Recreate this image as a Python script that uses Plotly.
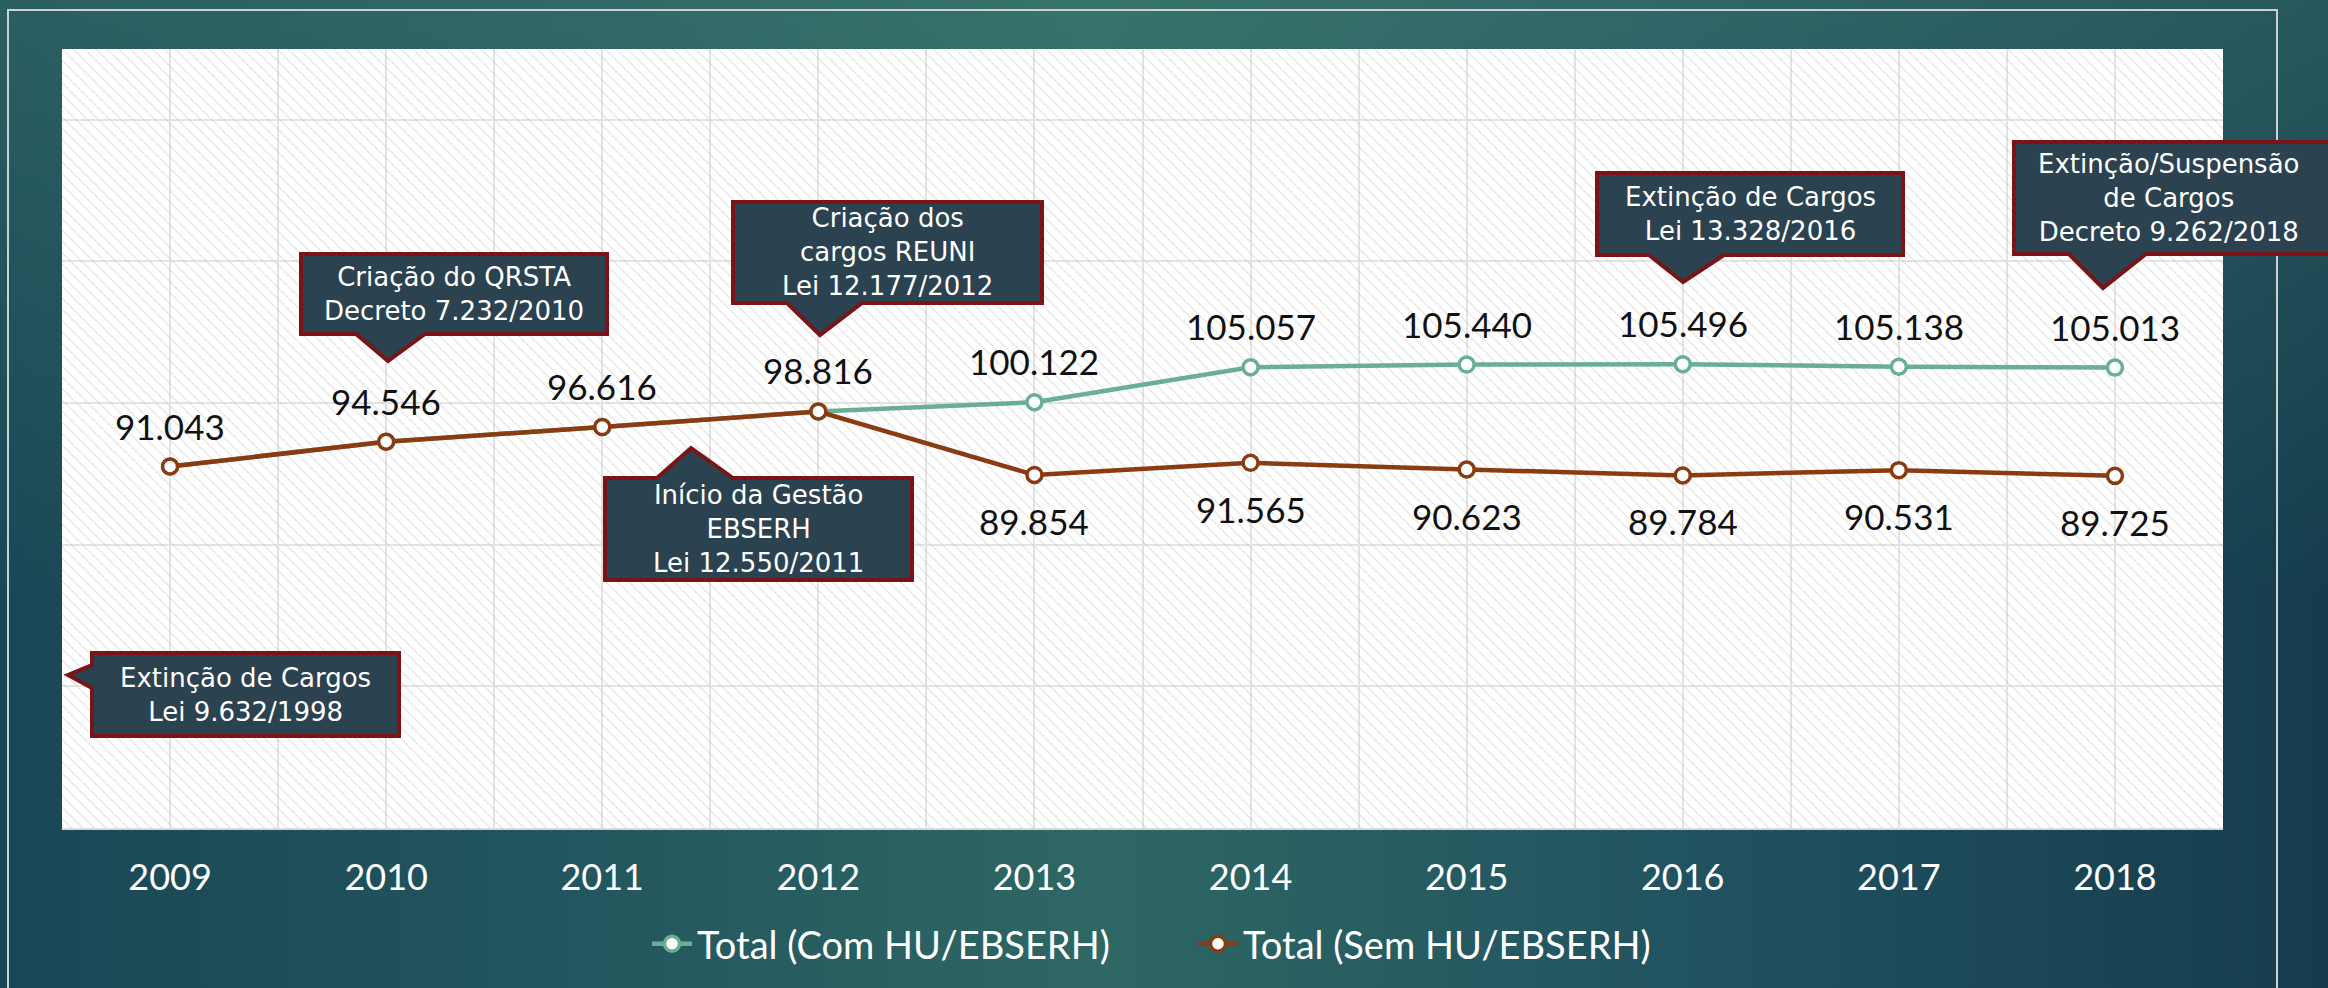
import base64
import plotly.graph_objects as go

# ---------------- data ----------------
years = [2009, 2010, 2011, 2012, 2013, 2014, 2015, 2016, 2017, 2018]
total_com = [91043, 94546, 96616, 98816, 100122, 105057, 105440, 105496, 105138, 105013]
total_sem = [91043, 94546, 96616, 98816, 89854, 91565, 90623, 89784, 90531, 89725]
name_com = "Total (Com HU/EBSERH)"
name_sem = "Total (Sem HU/EBSERH)"

callout_texts = [
    "Criação do QRSTA<br>Decreto 7.232/2010",
    "Criação dos<br>cargos REUNI<br>Lei 12.177/2012",
    "Início da Gestão<br>EBSERH<br>Lei 12.550/2011",
    "Extinção de Cargos<br>Lei 9.632/1998",
    "Extinção de Cargos<br>Lei 13.328/2016",
    "Extinção/Suspensão<br>de Cargos<br>Decreto 9.262/2018",
]

# ---------------- layout constants ----------------
W, H = 2328, 988
PL, PR, PT, PB = 62, 2223, 49, 828
Y_MIN, Y_MAX = 40000, 150000

GREEN = "#6aaf93"
BROWN = "#8a3b12"
BOX_FILL = "#2b4250"
BOX_LINE = "#7a1416"
FONT = "Lato"
BOX_FONT = "DejaVu Sans"


def fx(x):
    return (x - PL) / (PR - PL)


def fy(y):
    return (PB - y) / (PB - PT)


def fmt(v):
    return f"{v:,}".replace(",", ".")


fig = go.Figure()

# hatched plot background
fig.add_trace(go.Bar(
    x=years, y=[Y_MAX - Y_MIN] * len(years), base=Y_MIN, width=1,
    marker=dict(color="rgba(0,0,0,0)", line=dict(width=0),
                pattern=dict(shape="\\", fgcolor="#cacaca", bgcolor="rgba(0,0,0,0)",
                             size=8, solidity=0.16)),
    hoverinfo="skip", showlegend=False,
))

fig.add_trace(go.Scatter(
    x=years, y=total_com, name=name_com, mode="lines+markers",
    line=dict(color=GREEN, width=4.5),
    marker=dict(size=15, color="white", line=dict(color=GREEN, width=3.5)),
))
fig.add_trace(go.Scatter(
    x=years, y=total_sem, name=name_sem, mode="lines+markers",
    line=dict(color=BROWN, width=4.5),
    marker=dict(size=15, color="white", line=dict(color=BROWN, width=3.5)),
))

annotations = []
for yr, c, s in zip(years, total_com, total_sem):
    annotations.append(dict(x=yr, y=c, xref="x", yref="y", text=fmt(c), showarrow=False,
                            yshift=41, font=dict(family=FONT, size=35, color="#111111")))
    if s != c:
        annotations.append(dict(x=yr, y=s, xref="x", yref="y", text=fmt(s), showarrow=False,
                                yshift=-46, font=dict(family=FONT, size=35, color="#111111")))

# callout geometry (page pixels): box (x0, y0, x1, y1), pointer kind, pointer params
callout_geom = [
    ((301, 254, 607, 334), "down", (356, 425, 388, 361)),
    ((733, 202, 1042, 303), "down", (787, 862, 820, 335)),
    ((605, 478, 912, 580), "up", (657, 733, 691, 448)),
    ((92, 653, 399, 736), "left", (665, 688, 68, 675)),
    ((1597, 173, 1903, 255), "down", (1649, 1724, 1683, 282)),
    ((2014, 142, 2345, 254), "down", (2069, 2146, 2103, 288)),
]

shapes = []
for text, (box, kind, p) in zip(callout_texts, callout_geom):
    x0, y0, x1, y1 = box
    if kind == "down":
        b0, b1, tx, ty = p
        pts = [(x0, y0), (x1, y0), (x1, y1), (b1, y1), (tx, ty), (b0, y1), (x0, y1)]
    elif kind == "up":
        b0, b1, tx, ty = p
        pts = [(x0, y0), (b0, y0), (tx, ty), (b1, y0), (x1, y0), (x1, y1), (x0, y1)]
    else:
        b0, b1, tx, ty = p
        pts = [(x0, y0), (x1, y0), (x1, y1), (x0, y1), (x0, b1), (tx, ty), (x0, b0)]
    path = "M " + " L ".join(f"{fx(a):.5f},{fy(b):.5f}" for a, b in pts) + " Z"
    shapes.append(dict(type="path", path=path, xref="paper", yref="paper",
                       fillcolor=BOX_FILL, line=dict(color=BOX_LINE, width=4), layer="above"))
    cx = (x0 + 2324) / 2 if x1 > W else (x0 + x1) / 2
    annotations.append(dict(x=fx(cx), y=fy((y0 + y1) / 2), xref="paper", yref="paper",
                            text=text, showarrow=False, xanchor="center", yanchor="middle",
                            font=dict(family=BOX_FONT, size=26, color="white")))

# outer frame line
shapes.append(dict(type="rect", xref="paper", yref="paper",
                   x0=fx(8), x1=fx(2277), y0=fy(1010), y1=fy(10),
                   line=dict(color="#c9d3d3", width=2), fillcolor="rgba(0,0,0,0)", layer="below"))

# gradient page background with white plot panel
svg = (
    f'<svg xmlns="http://www.w3.org/2000/svg" width="{W}" height="{H}" '
    f'viewBox="0 0 {W} {H}" preserveAspectRatio="none">'
    '<defs>'
    '<linearGradient id="h" x1="0" y1="0" x2="1" y2="0">'
    '<stop offset="0" stop-color="#1a4756"/>'
    '<stop offset="0.25" stop-color="#23565e"/>'
    '<stop offset="0.47" stop-color="#2e6763"/>'
    '<stop offset="0.72" stop-color="#225360"/>'
    '<stop offset="1" stop-color="#153c4d"/>'
    '</linearGradient>'
    '<linearGradient id="v" x1="0" y1="0" x2="0" y2="1">'
    '<stop offset="0" stop-color="#4a8a78" stop-opacity="0.35"/>'
    '<stop offset="0.6" stop-color="#4a8a78" stop-opacity="0"/>'
    '</linearGradient>'
    '</defs>'
    f'<rect x="0" y="0" width="{W}" height="{H}" fill="url(#h)"/>'
    f'<rect x="0" y="0" width="{W}" height="{H}" fill="url(#v)"/>'
    f'<rect x="{PL}" y="{PT}" width="{PR - PL}" height="{PB - PT}" fill="#ffffff"/></svg>'
)
src = "data:image/svg+xml;base64," + base64.b64encode(svg.encode()).decode()

fig.update_layout(
    width=W, height=H,
    margin=dict(l=PL, r=W - PR, t=PT, b=H - PB, pad=0),
    paper_bgcolor="#1f5058",
    plot_bgcolor="rgba(0,0,0,0)",
    bargap=0,
    separators=",.",
    showlegend=True,
    legend=dict(orientation="h", x=fx(647), xanchor="left", y=fy(944), yanchor="middle",
                font=dict(family=FONT, size=38, color="white"), bgcolor="rgba(0,0,0,0)",
                itemwidth=40, entrywidth=491, entrywidthmode="pixels"),
    images=[dict(source=src, xref="paper", yref="paper", x=fx(0), y=fy(0),
                 sizex=W / (PR - PL), sizey=H / (PB - PT), xanchor="left", yanchor="top",
                 sizing="stretch", layer="below")],
    shapes=shapes,
    annotations=annotations,
    xaxis=dict(range=[years[0] - 0.5, years[-1] + 0.5], tickmode="array", tickvals=years,
               ticktext=[str(y) for y in years], showgrid=True, gridcolor="#e3e3e3", gridwidth=2,
               minor=dict(tick0=years[0] - 0.5, dtick=1, showgrid=True, gridcolor="#e3e3e3",
                          gridwidth=2),
               zeroline=False, showline=True, linecolor="#d9d9d9", linewidth=2,
               ticks="", ticklabelstandoff=17,
               tickfont=dict(family=FONT, size=36, color="white"), fixedrange=True),
    yaxis=dict(range=[Y_MIN, Y_MAX], tick0=Y_MIN, dtick=20000, showgrid=True,
               gridcolor="#e3e3e3", gridwidth=2, zeroline=False, showticklabels=False,
               showline=False, fixedrange=True),
)

fig.write_html("out.html", config={"displayModeBar": False},
               post_script="document.body.style.margin='0';document.body.style.overflow='hidden';")
